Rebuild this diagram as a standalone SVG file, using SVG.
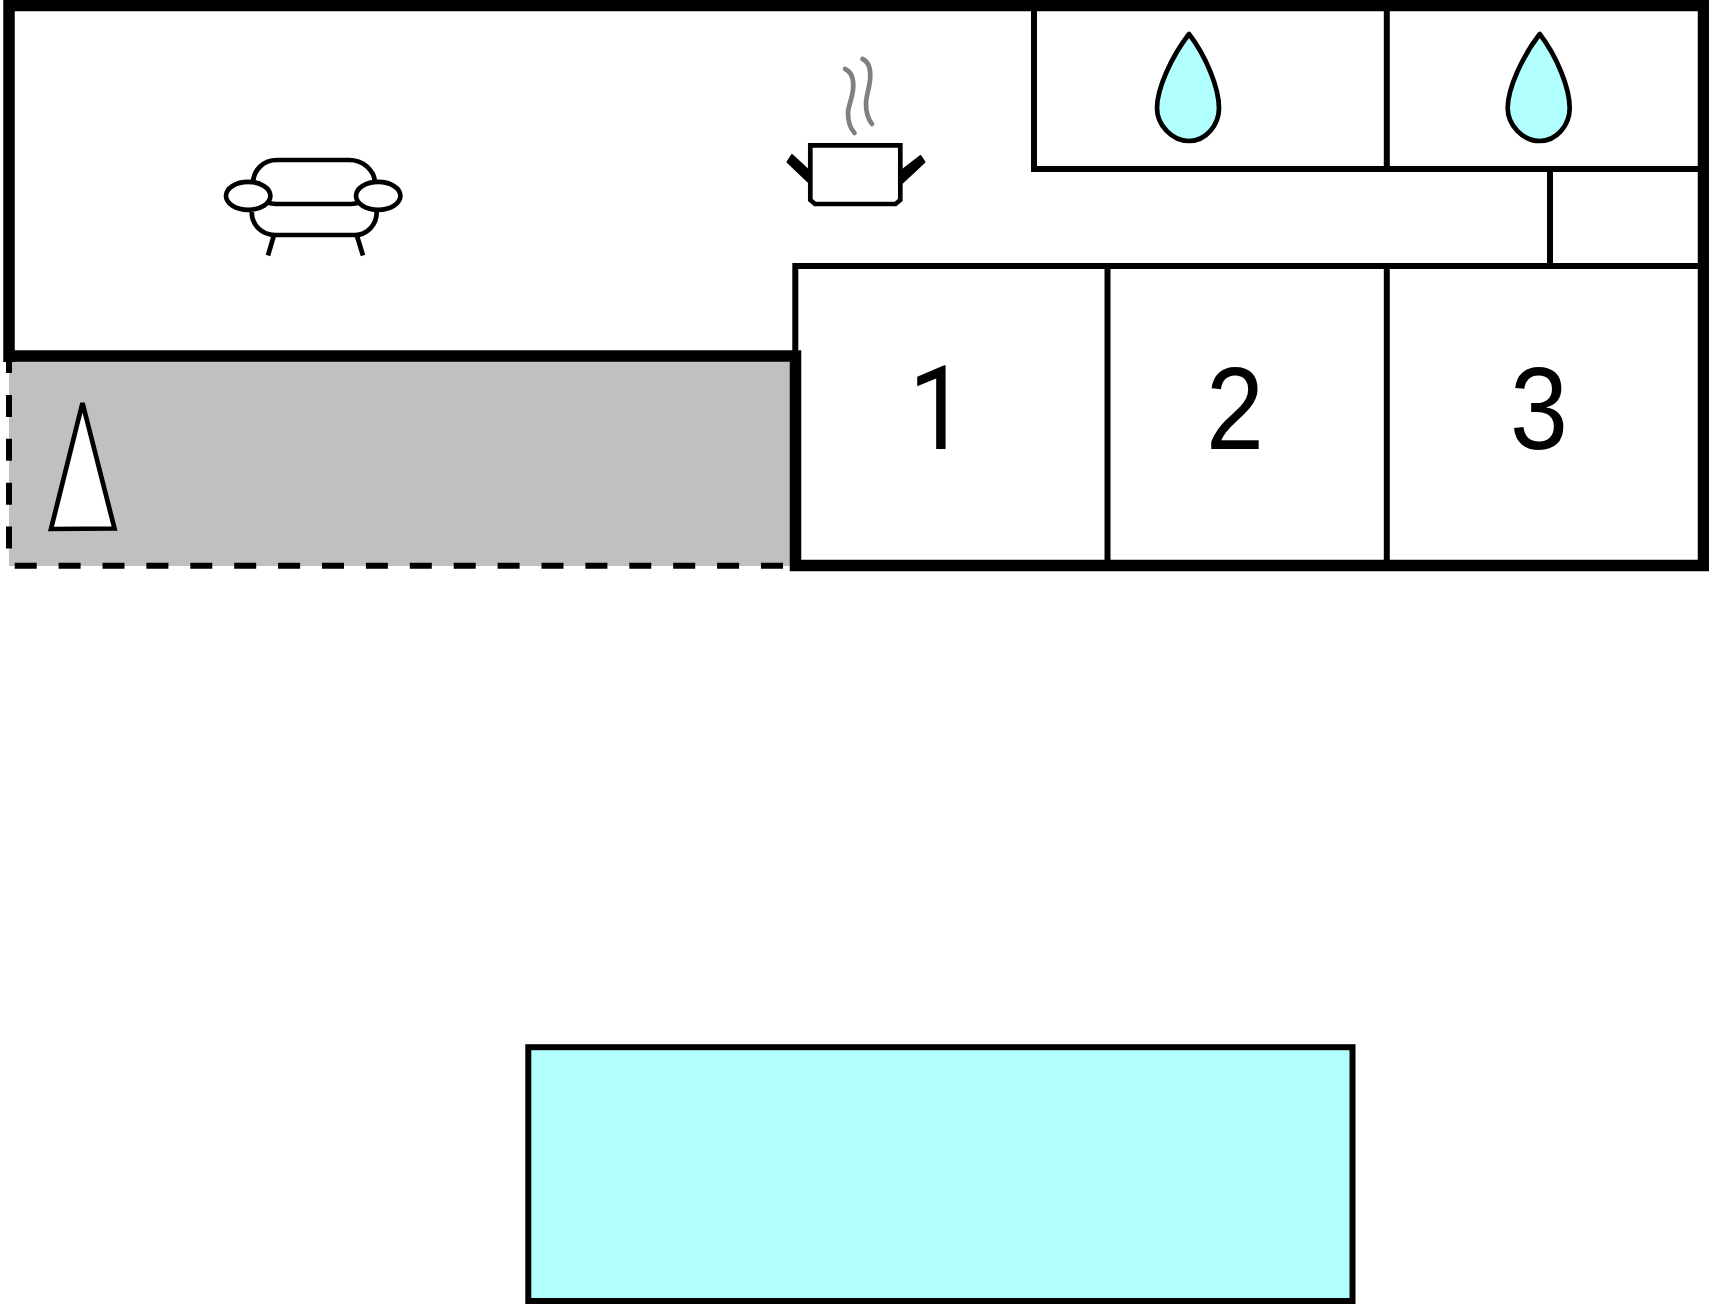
<svg xmlns="http://www.w3.org/2000/svg" width="1709" height="1304" viewBox="0 0 1709 1304">
<defs>
<style>
.wall{fill:none;stroke:#000;stroke-width:11.5}
.thin{fill:none;stroke:#000;stroke-width:6}
.dash{fill:none;stroke:#000;stroke-width:6;stroke-dasharray:22 21.9}
.ic{fill:#fff;stroke:#000;stroke-width:4.7}
.ln{fill:none;stroke:#000;stroke-width:4.7}
.drop{fill:#b2ffff;stroke:#000;stroke-width:4.7;stroke-linejoin:round}
.steam{fill:none;stroke:#808080;stroke-width:4.7;stroke-linecap:round}
.num{font-family:"Liberation Sans",Arial,sans-serif;font-size:117px;fill:#000}
.one{font-family:Roboto,"Liberation Sans",Arial,sans-serif}
</style>
<path id="droplet" class="drop" d="M1189 34C1172 56 1157 88 1157 108C1157 125 1172 141 1189 141C1206 141 1219 125 1219 108C1219 88 1206 56 1189 34Z"/>
</defs>
<rect width="1709" height="1304" fill="#fff"/>
<g id="balcony">
<rect x="9" y="356" width="786" height="210" fill="#c0c0c0"/>
<path class="dash" d="M9 351V566"/>
<path class="dash" d="M14.7 565.7H790"/>
</g>
<g id="walls">
<path class="thin" d="M1034 5V169H1703"/>
<path class="thin" d="M1386.8 5V169"/>
<path class="thin" d="M1550 169V266"/>
<path class="thin" d="M795.3 356V266H1703"/>
<path class="thin" d="M1107.5 266V566"/>
<path class="thin" d="M1386.8 266V566"/>
<path class="wall" d="M9 362V5.5H1703.5V565.5H795.5V356H3.5"/>
</g>
<g id="sofa">
<path class="ic" d="M253 182C254 170 263 160 277 160H349C363 160 374 170 375 182"/>
<path class="ln" d="M266 202C269 203 272 204 276 204H351C354 204 358 203 361 202"/>
<path class="ic" d="M251.700 212C251.700 225 262 235 275 235H355C367 235 376.700 225 376.700 212"/>
<path class="ln" d="M274 235L268 255.500M356.700 235L363 255.500"/>
<ellipse class="ic" cx="248.200" cy="195.800" rx="22.200" ry="14"/>
<ellipse class="ic" cx="378.200" cy="195.800" rx="22.200" ry="14"/>
</g>
<g id="pot">
<path d="M787.500 162L792 155L811.700 173.300L809.300 182.700Z" fill="#000" stroke="#000" stroke-width="2" stroke-linejoin="round"/>
<path d="M924.500 162L920.500 156L902.300 170V182.700Z" fill="#000" stroke="#000" stroke-width="2" stroke-linejoin="round"/>
<path class="ic" d="M810.300 145.300H900.300V200L895.500 204H815L810.300 200Z"/>
<path class="steam" d="M845 69C852 72 854 80 853 90C852 100 848 106 848 113C848 122 850 128 854.500 133"/>
<path class="steam" d="M862.500 59C869 62 871 70 870 80C869 90 866 96 866 104C866 112 868 119 872 124"/>
</g>
<g id="drop1"><use href="#droplet"/></g>
<g id="drop2"><use href="#droplet" x="350.700"/></g>
<g id="door"><path d="M82.500 403L114.500 528.500L51 529Z" fill="#fff" stroke="#000" stroke-width="4.700"/></g>
<g id="room1"><text class="num one" transform="translate(908.400 449) scale(.89 1)">1</text></g>
<g id="room2"><text class="num" transform="translate(1206 449) scale(.89 1)">2</text></g>
<g id="room3"><text class="num" transform="translate(1510 449) scale(.89 1)">3</text></g>
<g id="tank"><rect x="528.300" y="1047.200" width="824.200" height="253.800" fill="#b2ffff" stroke="#000" stroke-width="6"/></g>
<g id="connectors"/>
</svg>
